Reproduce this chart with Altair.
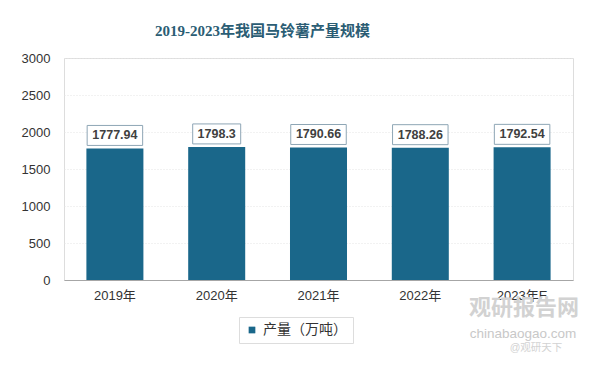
import altair as alt
import pandas as pd

years = ["2019年", "2020年", "2021年", "2022年", "2023年E"]
values = [1777.94, 1798.3, 1790.66, 1788.26, 1792.54]
series_name = "产量（万吨）"
y_ticks = [0, 500, 1000, 1500, 2000, 2500, 3000]

df = pd.DataFrame({"year": years, "value": values, "series": [series_name] * len(years)})

FONT = "Liberation Sans, Noto Sans CJK SC"
BAR = "#1a678a"

x = alt.X("year:N", sort=years, title=None,
          scale=alt.Scale(paddingInner=0.44, paddingOuter=0.22),
          axis=alt.Axis(labelAngle=0, labelFontSize=13, labelColor="#333333", labelFont=FONT,
                        ticks=False, domainColor="#a6a6a6", labelPadding=9, grid=False))
y = alt.Y("value:Q", title=None,
          scale=alt.Scale(domain=[0, 3000]),
          axis=alt.Axis(values=y_ticks, format="d", labelOverlap=False,
                        labelFontSize=13, labelColor="#333333", labelFont=FONT,
                        ticks=False, domain=False, labelPadding=14,
                        gridColor="#e4e4e4", gridDash=[1, 2]))

base = alt.Chart(df)

bars = base.mark_bar(color=BAR).encode(
    x=x, y=y,
    color=alt.Color("series:N", scale=alt.Scale(range=[BAR]),
                    legend=alt.Legend(title=None, orient="none", legendX=175, legendY=259,
                                      symbolType="square", symbolSize=45, labelFontSize=14,
                                      labelFont=FONT, labelColor="#333333",
                                      padding=6, strokeColor="#dddddd", fillColor="white",
                                      symbolStrokeWidth=0)),
)

labels_df = base.transform_calculate(
    label="'' + datum.value"
).transform_calculate(
    h="(length(datum.label) * 7.5 + 3) / 60"
).transform_calculate(
    shp="'M' + (-datum.h) + ',-0.333L' + datum.h + ',-0.333L' + datum.h + ',0.333L' + (-datum.h) + ',0.333Z'"
)

boxes = labels_df.mark_point(filled=True, fill="white", stroke="#8ea6b5", strokeWidth=1,
                             opacity=1, yOffset=-13, size=3600).encode(
    x=alt.X("year:N", sort=years), y=y,
    shape=alt.Shape("shp:N", scale=None),
)

texts = labels_df.mark_text(fontSize=12.5, fontWeight="bold", color="#404040", font=FONT,
                            baseline="middle", dy=-13).encode(
    x=alt.X("year:N", sort=years), y=y,
    text=alt.Text("label:N"),
)

wm = pd.DataFrame({"t": ["观研报告网", "chinabaogao.com", "@观研天下"]})
wm1 = alt.Chart(wm).transform_filter("datum.t == '观研报告网'").mark_text(
    fontSize=22, fontWeight="bold", color="#d2d2d2", font=FONT, align="center").encode(
    x=alt.value(460), y=alt.value(250), text="t:N")
wm2 = alt.Chart(wm).transform_filter("datum.t == 'chinabaogao.com'").mark_text(
    fontSize=13.5, color="#c8c8c8", font=FONT, align="center").encode(
    x=alt.value(459), y=alt.value(276), text="t:N")
wm3 = alt.Chart(wm).transform_filter("datum.t == '@观研天下'").mark_text(
    fontSize=10.5, color="#d2d2d2", font=FONT, align="center").encode(
    x=alt.value(472), y=alt.value(290), text="t:N")

chart = alt.layer(bars, boxes, texts, wm1, wm2, wm3).properties(
    width=509, height=222,
    title=alt.TitleParams("2019-2023年我国马铃薯产量规模", fontSize=15, fontWeight="bold",
                          color="#2b5d74", font="Liberation Serif, Noto Sans CJK SC",
                          anchor="middle", dx=-56, offset=13),
    autosize=alt.AutoSizeParams(type="none"),
    padding={"left": 56, "top": 50, "right": 12, "bottom": 76},
).configure_view(fill="#f3f3f3", stroke=None).configure(background="white")

chart.save("out.html", embed_options={"renderer": "svg", "actions": False})
